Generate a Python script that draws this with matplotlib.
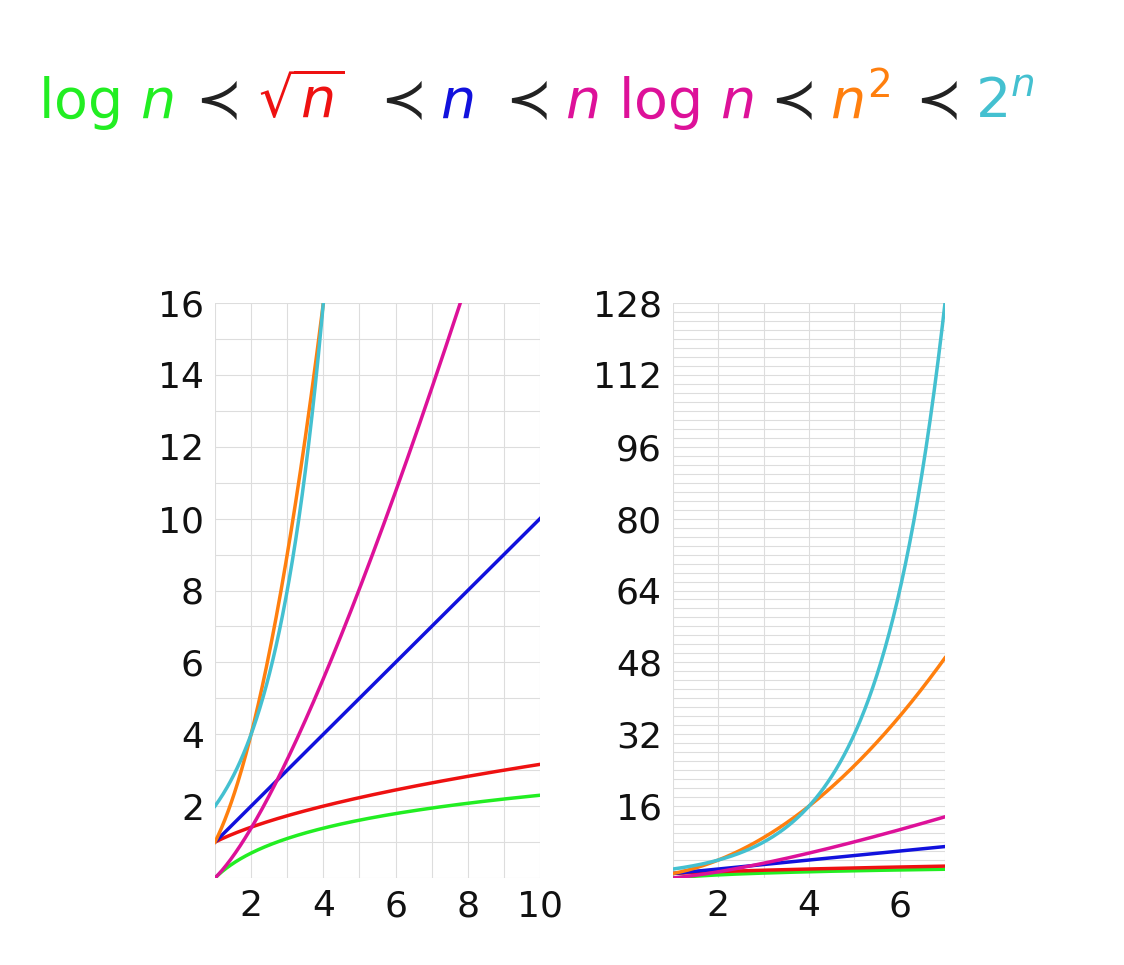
import numpy as np
import matplotlib
matplotlib.use("Agg")
import matplotlib.pyplot as plt

plt.rcParams['mathtext.fontset'] = 'dejavusans'

left_n = np.linspace(1, 10, 400)
right_n = np.linspace(1, 7, 400)
names = ["log n", "sqrt n", "n", "n log n", "n^2", "2^n"]
colors = ["#22ee22", "#ee1111", "#1111dd", "#dd1199", "#ff7f0e", "#44c0d0"]
funcs = [np.log, np.sqrt, lambda x: x, lambda x: x*np.log(x), lambda x: x**2, lambda x: 2.0**x]
left_yticks = [2, 4, 6, 8, 10, 12, 14, 16]
left_xticks = [2, 4, 6, 8, 10]
right_yticks = [16, 32, 48, 64, 80, 96, 112, 128]
right_xticks = [2, 4, 6]

W, H = 1124, 965
fig = plt.figure(figsize=(W/100, H/100), dpi=100)

def ax_at(x0, y0, x1, y1):
    return fig.add_axes([x0/W, 1-y1/H, (x1-x0)/W, (y1-y0)/H])

axL = ax_at(215, 303, 540, 878)
axR = ax_at(673, 303, 945, 878)

for ax, n, xt, yt, xmax, ymax, ystep in [
        (axL, left_n, left_xticks, left_yticks, 10, 16, 1),
        (axR, right_n, right_xticks, right_yticks, 7, 128, 2)]:
    for f, c in zip(funcs, colors):
        ax.plot(n, f(n), color=c, lw=2.5, clip_on=True, zorder=3)
    ax.set_xlim(1, xmax)
    ax.set_ylim(0, ymax)
    ax.set_xticks(xt)
    ax.set_yticks(yt)
    ax.set_xticks(np.arange(1, xmax+1, 1), minor=True)
    ax.set_yticks(np.arange(0, ymax+1, ystep), minor=True)
    ax.grid(True, which='both', color='#dddddd', lw=0.8)
    ax.tick_params(which='both', length=0, labelsize=26, pad=8, labelcolor='#111111')
    for s in ax.spines.values():
        s.set_visible(False)

pieces = [(38, r"$\mathrm{log}\ n$", colors[0]), (185, r"$\prec$", "#222222"),
          (258, r"$\sqrt{n}$", colors[1]), (370, r"$\prec$", "#222222"),
          (440, r"$n$", colors[2]), (495, r"$\prec$", "#222222"),
          (565, r"$n\ \mathrm{log}\ n$", colors[3]), (760, r"$\prec$", "#222222"),
          (830, r"$n^2$", colors[4]), (905, r"$\prec$", "#222222"),
          (975, r"$2^n$", colors[5])]
for x, t, c in pieces:
    fig.text(x/W, 1-103/H, t, color=c, fontsize=40, va='center', ha='left')

fig.savefig("out.png", dpi=100, facecolor='white')
